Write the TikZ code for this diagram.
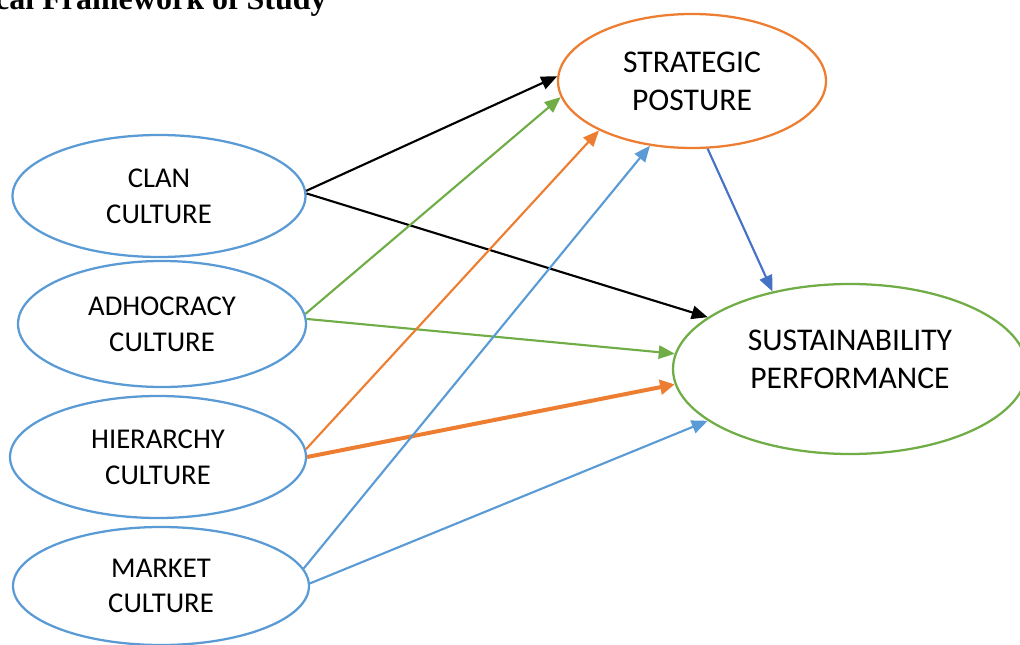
\documentclass[tikz,border=0pt]{standalone}
\usepackage{fontspec}
\setmainfont{Carlito}
\newfontfamily\titlefont{Liberation Serif}
\usetikzlibrary{shapes.geometric,arrows.meta}
\definecolor{blueE}{RGB}{91,155,213}
\definecolor{orangeE}{RGB}{237,125,49}
\definecolor{greenE}{RGB}{112,173,71}
\definecolor{dblueE}{RGB}{68,114,196}
\tikzset{
  ell/.style={ellipse, line width=1.7pt, inner sep=0pt, align=center, fill=white},
  culture/.style={ell, draw=blueE, font=\fontsize{21.5}{26.8}\selectfont},
  bigtxt/.style={inner sep=0pt, align=center, font=\fontsize{23.7}{28.5}\selectfont},
  tip/.style={-{Triangle[length=12pt,width=10pt]}},
  blk/.style={tip, line width=1.6pt, black},
  grn/.style={tip, line width=1.6pt, greenE},
  org/.style={tip, line width=1.6pt, orangeE},
  orgthick/.style={-{Triangle[length=11pt,width=11pt]}, line width=3pt, orangeE},
  blu/.style={tip, line width=1.6pt, blueE},
  dblu/.style={tip, line width=1.6pt, dblueE},
}
\begin{document}
\begin{tikzpicture}[x=0.75pt,y=-0.75pt]
\useasboundingbox (0,0) rectangle (1020,645);
\clip (0,0) rectangle (1020,645);
% title (cut off at the top-left)
\node[anchor=base east, inner sep=0pt, font=\titlefont\bfseries\fontsize{24}{28}\selectfont] (title) at (327,9.5) {cal Framework of Study};
% nodes
\node[culture, minimum width=219.75pt, minimum height=91.5pt] (clan) at (159,196) {CLAN\\CULTURE};
\node[culture, minimum width=216pt, minimum height=94.5pt] (adhoc) at (162,324) {ADHOCRACY\\CULTURE};
\node[culture, minimum width=222pt, minimum height=91.5pt] (hier) at (158,457) {HIERARCHY\\CULTURE};
\node[culture, minimum width=222pt, minimum height=88.5pt] (market) at (161,586) {MARKET\\CULTURE};
\node[ell, draw=orangeE, minimum width=201pt, minimum height=100.5pt, bigtxt] (strat) at (692,81) {STRATEGIC\\POSTURE};
\node[ell, draw=greenE, minimum width=265.5pt, minimum height=127.5pt] (sust) at (850,369) {};
\node[bigtxt] (susttxt) at (850,359) {SUSTAINABILITY\\PERFORMANCE};
% connectors
\draw[blk] (clan.2) -- (strat.178);
\draw[blk] (clan.1) -- (sust.160);
\draw[grn] (adhoc.4) -- (strat.187);
\draw[grn] (adhoc.2) -- (sust.175);
\draw[org] (hier.3) -- (strat.208);
\draw[orgthick] (hier.0) -- (sust.185.5);
\draw[blu] (market.7) -- (strat.237);
\draw[blu] (market.1) -- (sust.200);
\draw[dblu] (strat.283) -- (sust.135);
\end{tikzpicture}
\end{document}
